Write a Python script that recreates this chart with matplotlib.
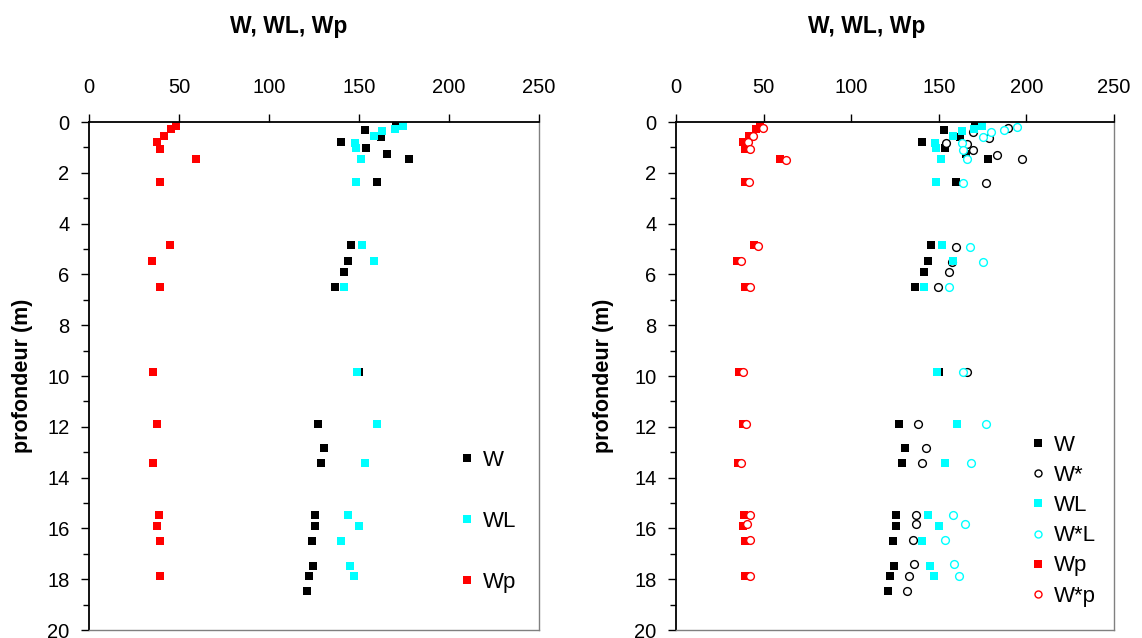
import matplotlib
matplotlib.use('Agg')
import matplotlib.pyplot as plt
from matplotlib.ticker import MultipleLocator

plt.rcParams['font.family'] = ['Liberation Sans', 'DejaVu Sans']

# water contents vs depth
W_depth = [0.12, 0.3, 0.58, 0.77, 1.04, 1.26, 1.47, 2.35, 4.84, 5.46, 5.89, 6.48, 9.86, 11.88,
           12.85, 13.44, 15.47, 15.89, 16.5, 17.48, 17.86, 18.46]
W = [170.4, 153.2, 162.0, 140.2, 153.7, 165.4, 177.8, 159.8, 145.4, 143.9, 141.7, 136.5, 150.0, 127.0,
     130.5, 128.8, 125.6, 125.6, 124.1, 124.7, 122.4, 120.9]

WL_depth = [0.16, 0.29, 0.34, 0.55, 0.81, 1.04, 1.47, 2.35, 4.84, 5.46, 6.48, 9.86, 11.88, 13.44,
            15.47, 15.89, 16.5, 17.48, 17.86]
WL = [174.7, 170.0, 163.0, 158.3, 147.6, 148.2, 151.0, 148.3, 151.7, 158.3, 141.7, 148.7, 160.2, 153.5,
      143.9, 150.2, 140.2, 144.8, 147.1]

Wp_depth = [0.16, 0.29, 0.55, 0.77, 1.06, 1.47, 2.35, 4.84, 5.46, 6.48, 9.86, 11.88, 13.44,
            15.47, 15.89, 16.5, 17.86]
Wp = [48.2, 45.8, 41.7, 38.0, 39.5, 59.3, 39.3, 44.8, 34.8, 39.4, 35.8, 38.0, 35.5,
      38.7, 38.0, 39.4, 39.4]

Wstar_depth = [0.25, 0.38, 0.62, 0.81, 0.88, 1.1, 1.3, 1.47, 2.39, 4.91, 5.5, 5.89, 6.48, 9.86, 11.88,
               12.85, 13.44, 15.47, 15.84, 16.46, 17.41, 17.86, 18.45]
Wstar = [189.3, 169.3, 178.7, 154.1, 166.3, 169.3, 183.4, 197.7, 176.9, 159.6, 157.3, 155.8, 149.4, 165.9, 138.3,
         142.5, 140.6, 136.8, 136.8, 135.1, 136.0, 132.8, 131.8]

WstarL_depth = [0.21, 0.3, 0.38, 0.58, 0.81, 1.1, 1.47, 2.39, 4.91, 5.5, 6.48, 9.86, 11.88, 13.44,
                15.47, 15.84, 16.46, 17.41, 17.86]
WstarL = [194.4, 187.0, 179.8, 175.4, 163.0, 163.6, 165.9, 163.6, 167.6, 175.4, 155.8, 163.6, 177.1, 168.4,
          158.1, 165.1, 153.4, 158.7, 161.5]

Wstarp_depth = [0.25, 0.55, 0.8, 1.05, 1.5, 2.35, 4.9, 5.46, 6.48, 9.86, 11.88, 13.44,
                15.47, 15.84, 16.46, 17.86]
Wstarp = [49.8, 43.8, 41.3, 42.2, 62.8, 41.8, 47.0, 37.1, 42.2, 38.1, 40.0, 37.0,
          42.2, 40.7, 42.2, 42.2]

CYAN = '#00FFFF'
RED = '#FF0000'

W_PX, H_PX = 1142, 638
fig = plt.figure(figsize=(W_PX / 100, H_PX / 100), dpi=100)
ax1 = fig.add_axes([89 / W_PX, 8 / H_PX, 450 / W_PX, 508 / H_PX])
ax2 = fig.add_axes([676 / W_PX, 8 / H_PX, 438 / W_PX, 508 / H_PX])

sq = dict(marker='s', linestyle='none', markersize=6, markeredgewidth=0)
circ = dict(marker='o', linestyle='none', markersize=5.6, markeredgewidth=1.0, markerfacecolor='white')

# left panel
ax1.plot(W, W_depth, color='black', label='W', **sq)
ax1.plot(WL, WL_depth, color=CYAN, label='WL', **sq)
ax1.plot(Wp, Wp_depth, color=RED, label='Wp', **sq)

# right panel
ax2.plot(W, W_depth, color='black', label='W', **sq)
ax2.plot(Wstar, Wstar_depth, color='black', markeredgecolor='black', label='W*', **circ)
ax2.plot(WL, WL_depth, color=CYAN, label='WL', **sq)
ax2.plot(WstarL, WstarL_depth, color=CYAN, markeredgecolor=CYAN, label='W*L', **circ)
ax2.plot(Wp, Wp_depth, color=RED, label='Wp', **sq)
ax2.plot(Wstarp, Wstarp_depth, color=RED, markeredgecolor=RED, label='W*p', **circ)

for ax in (ax1, ax2):
    ax.set_xlim(0, 250)
    ax.set_ylim(20, 0)
    ax.xaxis.set_major_locator(MultipleLocator(50))
    ax.yaxis.set_major_locator(MultipleLocator(2))
    ax.yaxis.set_minor_locator(MultipleLocator(1))
    ax.xaxis.tick_top()
    ax.tick_params(axis='x', which='major', direction='out', length=6, width=1, labelsize=14.5, pad=12)
    ax.tick_params(axis='y', which='major', direction='out', length=6, width=1, labelsize=14.5, pad=8)
    ax.tick_params(axis='y', which='minor', direction='out', length=4.5, width=1)
    ax.spines['top'].set_linewidth(1.3)
    ax.spines['left'].set_linewidth(1.3)
    ax.spines['right'].set_color('#808080')
    ax.spines['bottom'].set_color('#808080')
    ax.spines['right'].set_linewidth(1.0)
    ax.spines['bottom'].set_linewidth(1.0)
    ax.set_ylabel('profondeur (m)', fontsize=15.5, fontweight='bold')

ax1.yaxis.set_label_coords(-0.124, 0.5)
ax2.yaxis.set_label_coords(-0.1416, 0.5)

fig.text(289 / W_PX, 1 - 33 / H_PX, 'W, WL, Wp', ha='center', va='baseline', fontsize=16.5, fontweight='bold')
fig.text(867 / W_PX, 1 - 33 / H_PX, 'W, WL, Wp', ha='center', va='baseline', fontsize=16.5, fontweight='bold')

ax1.legend(loc='upper left', bbox_to_anchor=(460 / W_PX, 1 - 450 / H_PX), bbox_transform=fig.transFigure,
           frameon=False, fontsize=16, handlelength=0.6, handletextpad=0.42, labelspacing=1.8,
           borderpad=0, borderaxespad=0, markerscale=0.9)
ax2.legend(loc='upper left', bbox_to_anchor=(1031 / W_PX, 1 - 435 / H_PX), bbox_transform=fig.transFigure,
           frameon=False, fontsize=16, handlelength=0.6, handletextpad=0.42, labelspacing=0.41,
           borderpad=0, borderaxespad=0, markerscale=0.9)

plt.savefig('out.png', dpi=100)
plt.close()
